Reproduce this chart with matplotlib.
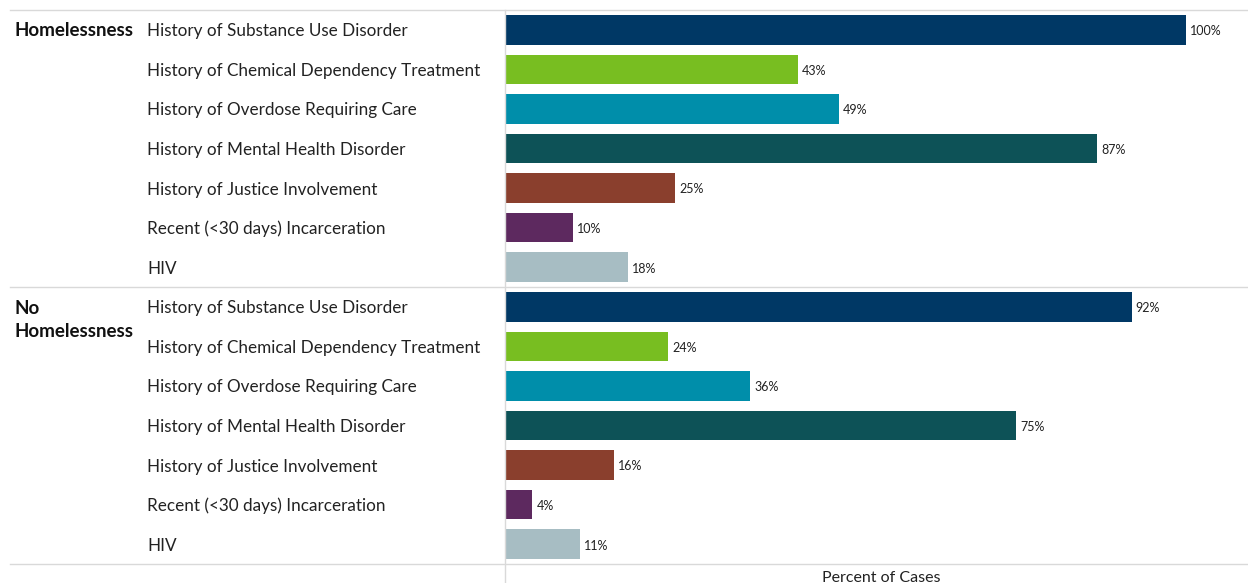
import matplotlib
matplotlib.use("Agg")
import matplotlib.pyplot as plt
from matplotlib.lines import Line2D

groups = ["Homelessness", "No\nHomelessness"]
categories = [
    "History of Substance Use Disorder",
    "History of Chemical Dependency Treatment",
    "History of Overdose Requiring Care",
    "History of Mental Health Disorder",
    "History of Justice Involvement",
    "Recent (<30 days) Incarceration",
    "HIV",
]
homeless_vals = [100, 43, 49, 87, 25, 10, 18]
no_homeless_vals = [92, 24, 36, 75, 16, 4, 11]
colors = ["#003865", "#78be21", "#008eaa", "#0d5257", "#8a3f2d", "#5d295f", "#a7bdc3"]

W, H = 1248, 583
fig = plt.figure(figsize=(W / 100, H / 100), dpi=100)
plt.rcParams['font.family'] = ['Lato', 'DejaVu Sans']

ax_left, ax_right = 505, 1248
ax_top, ax_bot = 10, 564
ax = fig.add_axes([ax_left / W, 1 - ax_bot / H, (ax_right - ax_left) / W, (ax_bot - ax_top) / H])

n = len(categories)
all_vals = homeless_vals + no_homeless_vals
ypos = list(range(2 * n))
bar_colors = colors + colors
ax.barh(ypos, all_vals, height=0.75, color=bar_colors)
ax.set_ylim(2 * n - 0.5, -0.5)
ax.set_xlim(0, 100 * (ax_right - ax_left) / 681)
for y, v in zip(ypos, all_vals):
    ax.annotate(f"{v}%", (v, y), xytext=(3, -1), textcoords="offset points",
                va="center", ha="left", fontsize=9, color="#222222")
ax.axis("off")

# category labels
row_h = (ax_bot - ax_top) / (2 * n)
for i in range(2 * n):
    ypix = ax_top + (i + 0.5) * row_h + 1.5
    fig.text(147 / W, 1 - ypix / H, categories[i % n], ha="left", va="center",
             fontsize=12.3, color="#222222")

# group labels
fig.text(14 / W, 1 - 31 / H, groups[0], ha="left", va="center", fontsize=13.5,
         fontweight="bold", color="#111111")
fig.text(14 / W, 1 - 320 / H, groups[1], ha="left", va="center", fontsize=13.5,
         fontweight="bold", color="#111111", linespacing=1.45)

# separator lines
for ypix in [ax_top, ax_top + n * row_h, ax_bot]:
    fig.add_artist(Line2D([10 / W, 1], [1 - ypix / H, 1 - ypix / H],
                          color="#d9d9d9", lw=1))
fig.add_artist(Line2D([ax_left / W, ax_left / W], [1 - ax_top / H, 0],
                      color="#d9d9d9", lw=1))

fig.text(881 / W, 1 - 578 / H, "Percent of Cases", ha="center", va="center",
         fontsize=11.5, color="#222222")

fig.savefig("out.png", dpi=100)
